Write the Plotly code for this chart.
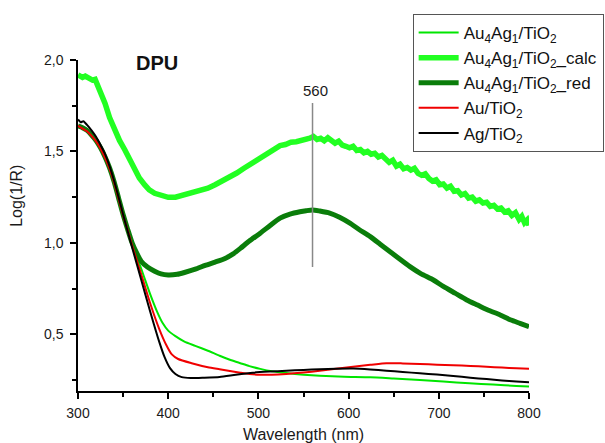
import plotly.graph_objects as go

# ---- spectra: wavelength (nm) and Log(1/R) ----
wl_au4ag1 = [300, 305, 310, 315, 320, 325, 330, 335, 340, 345, 350, 355, 360, 370, 380, 388, 394,
             400, 408, 418, 430, 444, 457, 470, 480, 490, 502, 515, 531, 550, 568, 595, 624, 650,
             679, 705, 734, 760, 786, 800]
lr_au4ag1 = [1.635, 1.625, 1.61, 1.585, 1.555, 1.515, 1.465, 1.405, 1.33, 1.24, 1.15, 1.07, 0.99,
             0.86, 0.72, 0.62, 0.56, 0.52, 0.49, 0.46, 0.437, 0.41, 0.383, 0.358, 0.342, 0.326,
             0.311, 0.298, 0.288, 0.279, 0.273, 0.268, 0.265, 0.258, 0.25, 0.242, 0.232, 0.225,
             0.218, 0.215]

wl_calc = [300, 305, 308, 312, 316, 319, 322, 325, 330, 335, 341, 346, 352, 357, 363, 368, 374,
           379, 385, 392, 400, 408, 418, 430, 444, 452, 460, 468, 476, 484, 492, 500, 508, 516,
           524, 530, 536, 542, 548, 553, 557, 561, 565, 569, 573, 577, 581, 585, 589, 593, 597,
           601, 605, 609, 613, 617, 621, 625, 629, 633, 637, 641, 645, 649, 653, 657, 661, 665,
           669, 673, 677, 681, 685, 689, 693, 697, 701, 705, 709, 713, 717, 721, 725, 729, 733,
           737, 741, 745, 749, 753, 757, 761, 765, 769, 773, 777, 781, 785, 789, 792, 795, 798,
           800]
lr_calc = [1.918, 1.905, 1.912, 1.898, 1.89, 1.894, 1.862, 1.83, 1.763, 1.685, 1.608, 1.56, 1.508,
           1.455, 1.399, 1.355, 1.317, 1.29, 1.271, 1.257, 1.249, 1.25, 1.262, 1.277, 1.299, 1.318,
           1.338, 1.36, 1.382, 1.408, 1.432, 1.462, 1.485, 1.508, 1.532, 1.538, 1.55, 1.553, 1.56,
           1.562, 1.572, 1.582, 1.566, 1.572, 1.558, 1.575, 1.56, 1.545, 1.556, 1.535, 1.528, 1.52,
           1.528, 1.505, 1.51, 1.492, 1.5, 1.485, 1.49, 1.47, 1.478, 1.455, 1.44, 1.452, 1.42,
           1.43, 1.405, 1.412, 1.398, 1.408, 1.38, 1.37, 1.378, 1.352, 1.338, 1.345, 1.318, 1.322,
           1.3, 1.31, 1.282, 1.285, 1.262, 1.27, 1.245, 1.25, 1.228, 1.235, 1.218, 1.222, 1.2,
           1.205, 1.185, 1.19, 1.168, 1.175, 1.15, 1.165, 1.128, 1.145, 1.11, 1.125, 1.095]

wl_red = [300, 305, 310, 315, 320, 325, 330, 335, 340, 345, 350, 355, 360, 365, 370, 377, 385,
          392, 400, 410, 418, 430, 441, 452, 463, 472, 480, 490, 502, 513, 524, 535, 546, 553,
          560, 568, 579, 590, 601, 612, 624, 635, 646, 657, 668, 680, 694, 705, 718, 731, 743,
          755, 768, 780, 790, 800]
lr_red = [1.64, 1.63, 1.615, 1.59, 1.56, 1.52, 1.47, 1.41, 1.335, 1.245, 1.155, 1.075, 1.0, 0.945,
          0.9, 0.868, 0.845, 0.83, 0.824, 0.828, 0.838, 0.856, 0.877, 0.895, 0.915, 0.94, 0.97,
          1.01, 1.053, 1.095, 1.135, 1.157, 1.17, 1.176, 1.18, 1.174, 1.163, 1.14, 1.109, 1.072,
          1.034, 0.993, 0.952, 0.91, 0.87, 0.832, 0.797, 0.762, 0.725, 0.688, 0.66, 0.632, 0.606,
          0.578, 0.56, 0.542]

wl_au = [300, 305, 310, 315, 320, 325, 330, 335, 340, 345, 350, 355, 360, 370, 380, 390, 398, 404,
         411, 426, 444, 457, 470, 480, 490, 502, 515, 531, 550, 568, 586, 605, 624, 642, 660, 679,
         698, 716, 735, 753, 770, 786, 800]
lr_au = [1.64, 1.625, 1.61, 1.585, 1.555, 1.515, 1.465, 1.405, 1.33, 1.24, 1.15, 1.07, 0.985, 0.83,
         0.67, 0.53, 0.44, 0.39, 0.365, 0.342, 0.32, 0.309, 0.298, 0.29, 0.283, 0.279, 0.279,
         0.283, 0.291, 0.301, 0.312, 0.323, 0.333, 0.342, 0.341, 0.338, 0.334, 0.331, 0.327,
         0.323, 0.318, 0.314, 0.312]

wl_ag = [300, 303, 306, 310, 315, 320, 325, 330, 335, 340, 345, 350, 355, 360, 370, 380, 390, 396,
         402, 408, 415, 425, 440, 457, 475, 494, 512, 531, 550, 568, 586, 605, 624, 642, 660, 679,
         698, 716, 735, 753, 770, 786, 800]
lr_ag = [1.675, 1.66, 1.665, 1.645, 1.615, 1.58, 1.535, 1.485, 1.42, 1.34, 1.25, 1.155, 1.065,
         0.975, 0.8, 0.625, 0.46, 0.375, 0.315, 0.283, 0.266, 0.261, 0.263, 0.267, 0.279, 0.29,
         0.296, 0.301, 0.305, 0.309, 0.312, 0.313, 0.308, 0.301, 0.294, 0.287, 0.28, 0.272,
         0.263, 0.255, 0.248, 0.242, 0.238]

peak_wl = 560
peak_line = [0.868, 1.765]

x_ticks = [300, 400, 500, 600, 700, 800]
y_ticks = [0.5, 1.0, 1.5, 2.0]

series = [
    ("Au<sub>4</sub>Ag<sub>1</sub>/TiO<sub>2</sub>", wl_au4ag1, lr_au4ag1, "#00e600", 2, "spline"),
    ("Au<sub>4</sub>Ag<sub>1</sub>/TiO<sub>2</sub>_calc", wl_calc, lr_calc, "#22ff22", 5.5, "linear"),
    ("Au<sub>4</sub>Ag<sub>1</sub>/TiO<sub>2</sub>_red", wl_red, lr_red, "#0a7d0a", 5, "spline"),
    ("Au/TiO<sub>2</sub>", wl_au, lr_au, "#f00000", 2, "spline"),
    ("Ag/TiO<sub>2</sub>", wl_ag, lr_ag, "#000000", 2, "spline"),
]

fig = go.Figure()
for i, (name, xs, ys, color, width, shape) in enumerate(series):
    fig.add_trace(go.Scatter(
        x=xs, y=ys, mode="lines", name=name, legendgroup=f"g{i}",
        line=dict(color=color, width=width, shape=shape, smoothing=0.6),
    ))

# marker line at the plasmon band maximum
fig.add_shape(type="line", xref="x", yref="y", x0=peak_wl, x1=peak_wl,
              y0=peak_line[0], y1=peak_line[1], line=dict(color="#888888", width=1.5))
fig.add_annotation(x=peak_wl, y=peak_line[1], xref="x", yref="y", text=str(peak_wl),
                   showarrow=False, xanchor="center", yanchor="bottom", xshift=3, yshift=2,
                   font=dict(size=15, color="#1a1a1a"))
fig.add_annotation(x=388, y=1.985, xref="x", yref="y", text="<b>DPU</b>", showarrow=False,
                   xanchor="center", yanchor="middle", font=dict(size=20, color="#111111"))
fig.add_annotation(x=-0.135, y=0.59, xref="paper", yref="paper", text="Log(1/R)",
                   textangle=-90, showarrow=False, xanchor="center", yanchor="middle",
                   font=dict(size=16, color="#1a1a1a"))

axis_common = dict(showline=True, linecolor="#000000", linewidth=1.5, ticks="outside",
                   ticklen=6, tickwidth=1.5, tickcolor="#000000", showgrid=False,
                   zeroline=False, mirror=False, tickfont=dict(size=14, color="#1a1a1a"))

fig.update_xaxes(range=[300, 800], tickvals=x_ticks,
                 minor=dict(dtick=50, tick0=300, ticks="outside", ticklen=4, tickwidth=1.5,
                            tickcolor="#000000"),
                 title=dict(text="Wavelength (nm)", font=dict(size=16, color="#1a1a1a"),
                            standoff=14),
                 ticklabelstandoff=2, **axis_common)
fig.update_yaxes(range=[0.19, 2.0], tickvals=y_ticks, tickformat=".1f",
                 minor=dict(tickvals=[0.25, 0.75, 1.25, 1.75], ticks="outside", ticklen=4,
                            tickwidth=1.5, tickcolor="#000000"),
                 ticklabelstandoff=4, **axis_common)

fig.update_layout(
    width=605, height=443,
    margin=dict(l=78, r=76, t=60, b=52, autoexpand=False),
    paper_bgcolor="white", plot_bgcolor="white",
    separators=",.",
    font=dict(family="Liberation Sans, Arial, sans-serif", size=14, color="#1a1a1a"),
    showlegend=True,
    legend=dict(x=0.742, y=1.139, xanchor="left", yanchor="top", bgcolor="white",
                bordercolor="#555555", borderwidth=1, font=dict(size=17, color="#111111"),
                tracegroupgap=2, itemwidth=40, traceorder="normal"),
)

fig.write_html("out.html")
